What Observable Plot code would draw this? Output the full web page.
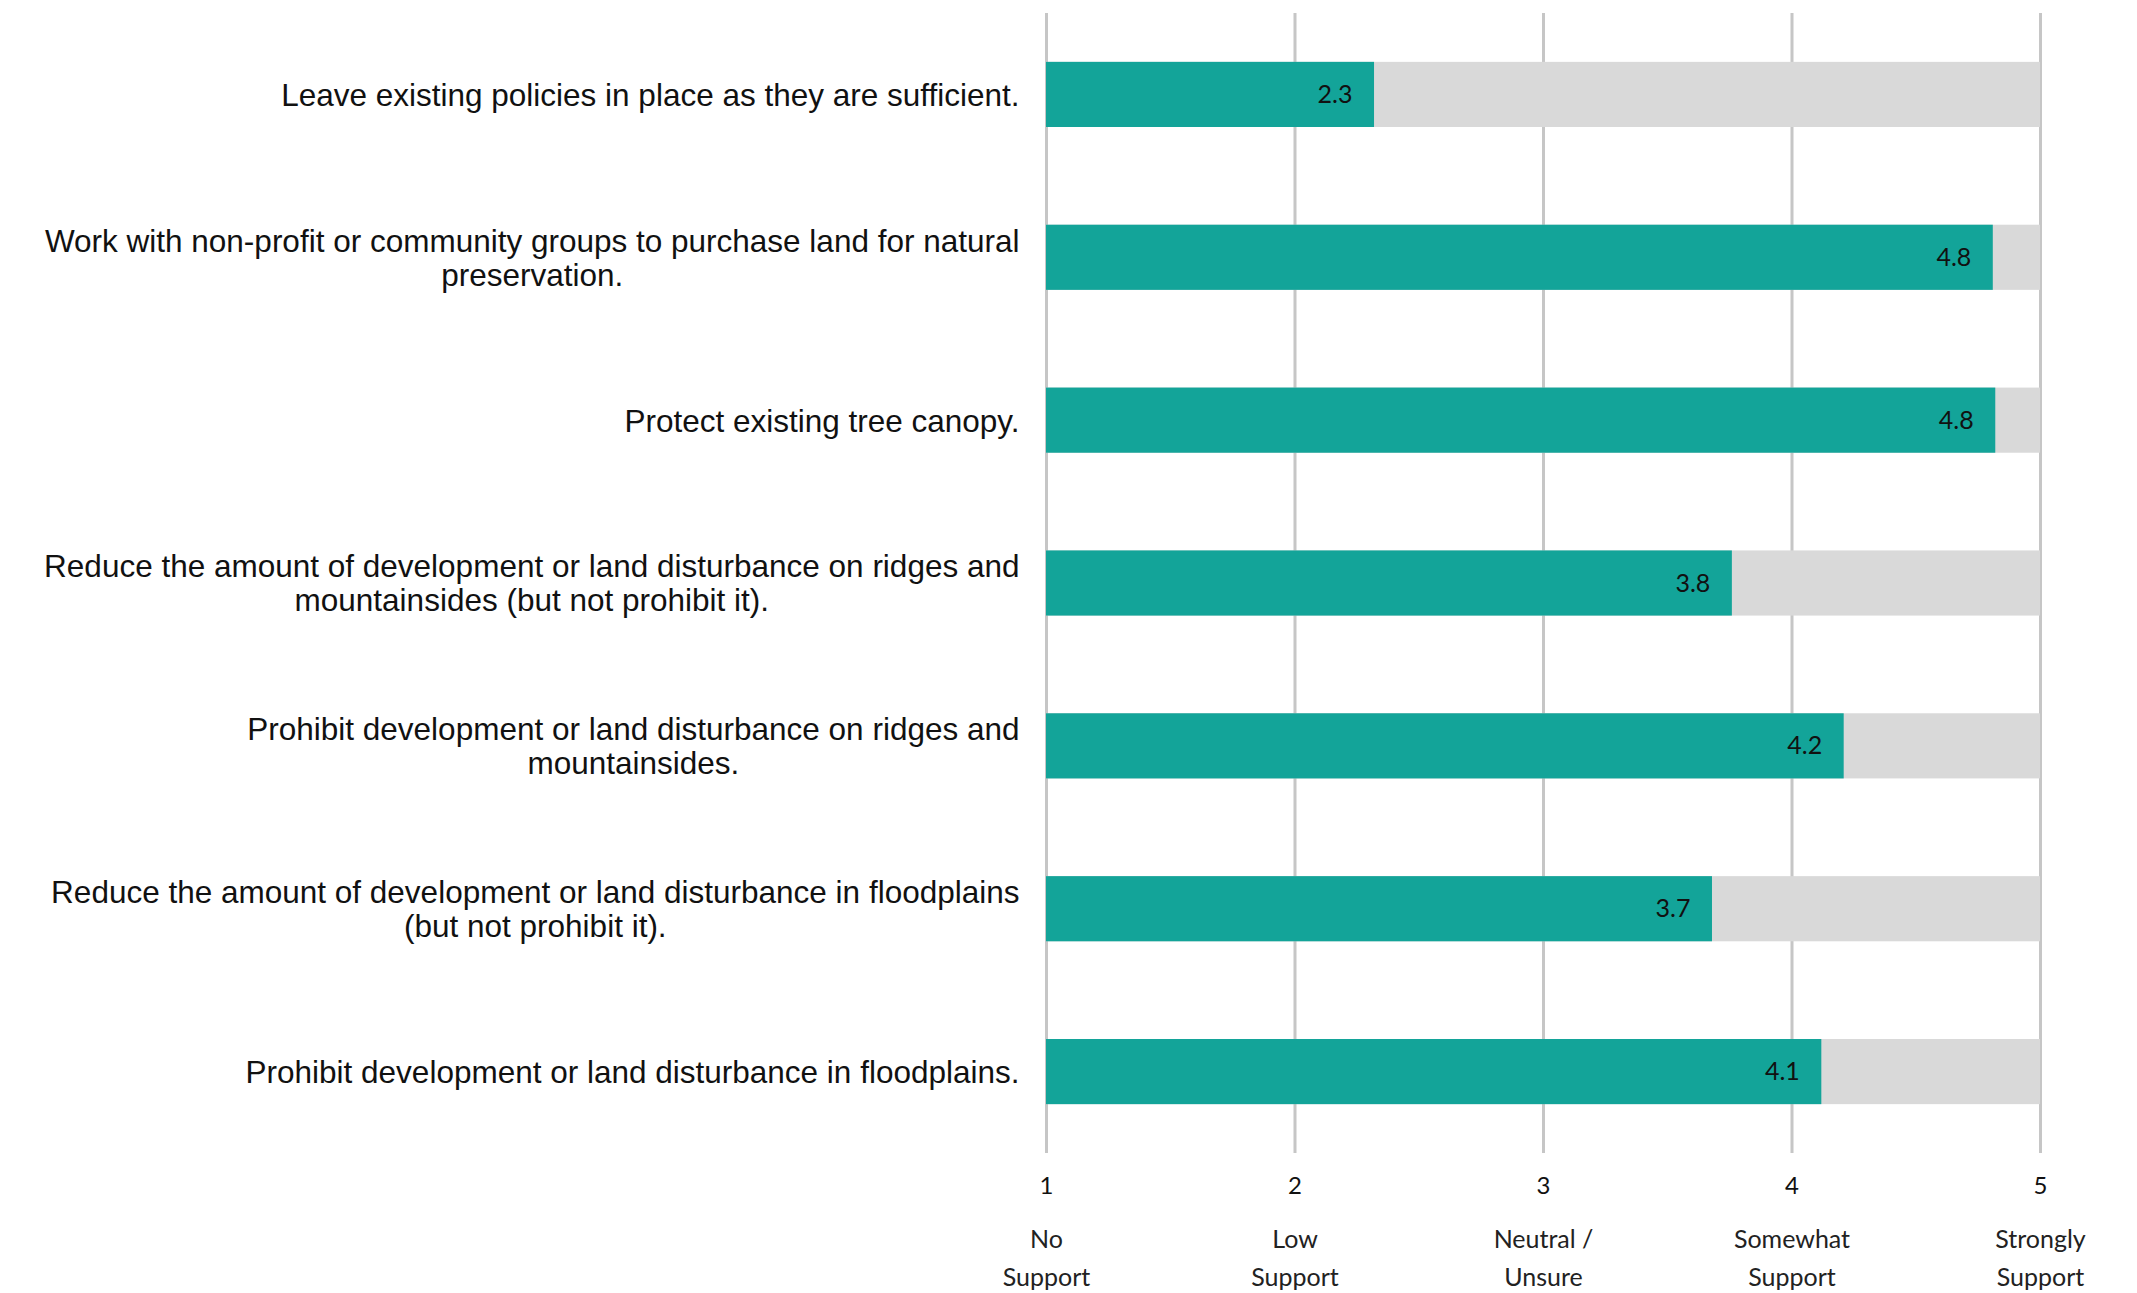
<!DOCTYPE html>
<html>
<head>
<meta charset="utf-8">
<script src="https://cdn.jsdelivr.net/npm/d3@7"></script>
<script src="https://cdn.jsdelivr.net/npm/@observablehq/plot@0.6"></script>
<style>
  html, body { margin: 0; padding: 0; background: #ffffff; }
  #chart svg { display: block; }
</style>
</head>
<body>
<div id="chart"></div>
<script>
const categories = [
  "Leave existing policies in place as they are sufficient.",
  "Work with non-profit or community groups to purchase land for natural\npreservation.",
  "Protect existing tree canopy.",
  "Reduce the amount of development or land disturbance on ridges and\nmountainsides (but not prohibit it).",
  "Prohibit development or land disturbance on ridges and\nmountainsides.",
  "Reduce the amount of development or land disturbance in floodplains\n(but not prohibit it).",
  "Prohibit development or land disturbance in floodplains."
];
const values = [2.32, 4.81, 4.82, 3.76, 4.21, 3.68, 4.12];
const scaleTicks = [1, 2, 3, 4, 5];
const scaleLabels = ["No\nSupport", "Low\nSupport", "Neutral /\nUnsure", "Somewhat\nSupport", "Strongly\nSupport"];

const rows = categories.map((c, i) => ({category: c, value: values[i]}));
const tickRows = scaleTicks.map((t, i) => ({tick: t, label: scaleLabels[i]}));
const fmt = d3.format(".1f");

const chart = Plot.plot({
  width: 2137,
  height: 1293,
  marginLeft: 1046,
  marginRight: 97,
  marginTop: 13,
  marginBottom: 140,
  style: {background: "#ffffff"},
  x: {domain: [1, 5], axis: null},
  y: {domain: categories, axis: null, paddingInner: 0.6, paddingOuter: 0.3, round: false},
  marks: [
    Plot.ruleX(scaleTicks, {stroke: "#c6c6c6", strokeWidth: 3}),
    Plot.barX(rows, {x1: 1, x2: 5, y: "category", fill: "#d9d9d9"}),
    Plot.barX(rows, {x1: 1, x2: "value", y: "category", fill: "#13a499"}),
    Plot.text(rows, {
      x: "value", y: "category", text: d => fmt(d.value),
      textAnchor: "end", dx: -22, fontSize: 25, fill: "#111",
      fontFamily: "Lato", fontWeight: 400
    }),
    Plot.text(categories, {
      x: 1, y: d => d, text: d => d, textAnchor: "end", dx: -27,
      fontSize: 31.5, lineHeight: 1.08, fill: "#111",
      fontFamily: "Liberation Sans, Arial, sans-serif"
    }),
    Plot.text(tickRows, {
      x: "tick", frameAnchor: "bottom", text: d => String(d.tick), dy: 40,
      fontSize: 24, fill: "#111", fontFamily: "Lato"
    }),
    Plot.text(tickRows, {
      x: "tick", frameAnchor: "bottom", text: "label", dy: 132,
      lineHeight: 1.52, fontSize: 25, fill: "#222", fontFamily: "Lato", fontWeight: 400
    })
  ]
});
document.getElementById("chart").appendChild(chart);

// Center the lines of each multi-line category label within its right-aligned block
const textGroups = chart.querySelectorAll('g[aria-label="text"]');
const labelGroup = textGroups[1];
if (labelGroup) {
  labelGroup.querySelectorAll("text").forEach(t => {
    if (t.querySelectorAll("tspan").length > 1) {
      const w = t.getBBox().width;
      t.setAttribute("text-anchor", "middle");
      const tr = t.getAttribute("transform") || "";
      t.setAttribute("transform", tr + ` translate(${-w / 2},0)`);
    }
  });
}
</script>
</body>
</html>
